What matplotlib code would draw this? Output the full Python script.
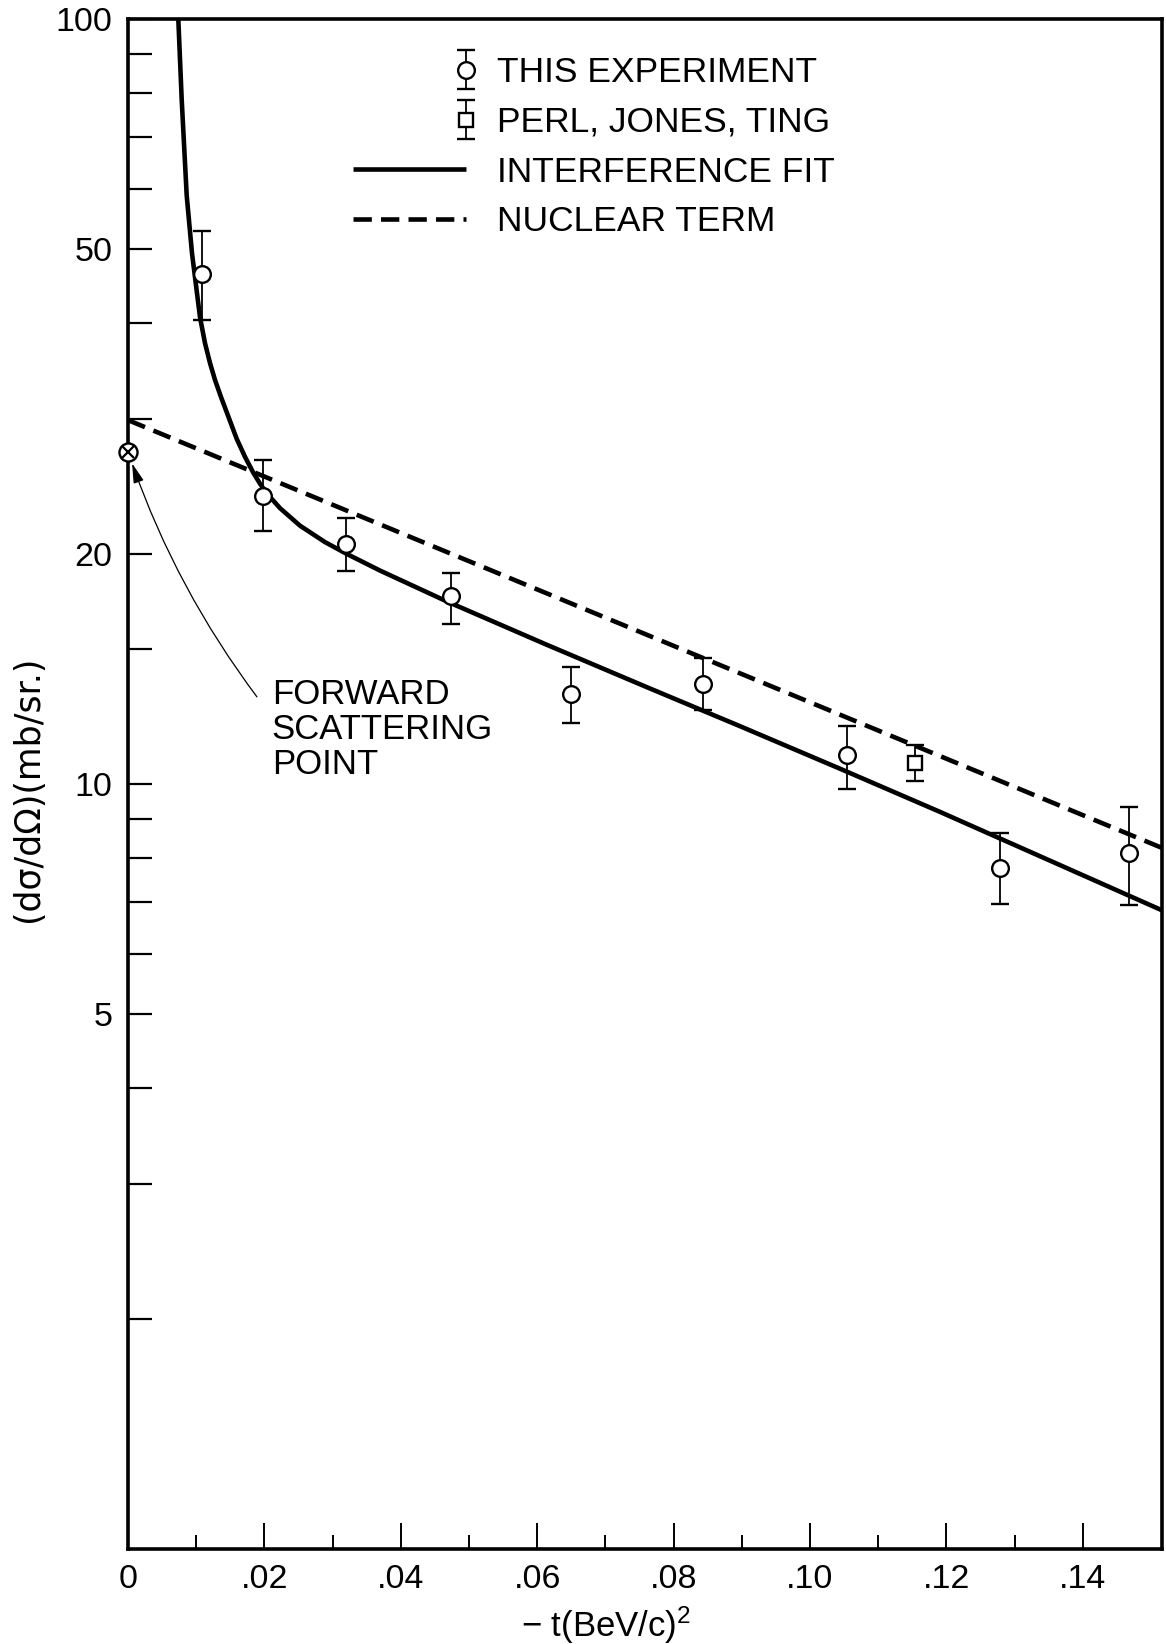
import numpy as np
import matplotlib
matplotlib.use('Agg')
import matplotlib.pyplot as plt
from matplotlib.legend_handler import HandlerErrorbar
from matplotlib.container import ErrorbarContainer
from matplotlib.ticker import FixedLocator, NullFormatter

plt.rcParams['font.family'] = ['Liberation Sans', 'DejaVu Sans']
plt.rcParams['mathtext.fontset'] = 'custom'
plt.rcParams['mathtext.rm'] = 'Liberation Sans'
plt.rcParams['mathtext.it'] = 'Liberation Sans'
plt.rcParams['mathtext.default'] = 'regular'

# ---------------- data ----------------
exp_t = [0.0108, 0.0198, 0.0319, 0.0474, 0.0649, 0.0843, 0.1054, 0.1279, 0.1467]
exp_y = [46.4, 23.8, 20.6, 17.6, 13.1, 13.5, 10.9, 7.77, 8.13]
exp_hi = [52.8, 26.5, 22.3, 18.9, 14.2, 14.6, 11.9, 8.63, 9.32]
exp_lo = [40.4, 21.4, 19.0, 16.2, 12.0, 12.5, 9.86, 6.97, 6.94]

pjt_t = [0.1154]
pjt_y = [10.65]
pjt_hi = [11.25]
pjt_lo = [10.10]

fwd_t = [0.0]
fwd_y = [27.2]

fit_t = [0.007375, 0.007874, 0.008607, 0.009384, 0.010557, 0.011290, 0.012024,
         0.012757, 0.013637, 0.015939, 0.017155, 0.018373, 0.019355, 0.020338,
         0.022287, 0.025220, 0.028886, 0.032112, 0.036950, 0.046774, 0.061437,
         0.076100, 0.089736, 0.104399, 0.119062, 0.151571]
fit_y = [100.0, 78.42, 58.78, 49.40, 40.75, 37.69, 35.50,
         33.74, 32.05, 28.26, 26.77, 25.52, 24.69, 23.99,
         22.94, 21.76, 20.71, 19.98, 19.01, 17.32, 15.20,
         13.38, 11.90, 10.47, 9.194, 6.839]

nuc_t = [0.0, 0.1516]
nuc_y = [29.9, 8.25]

x_major = [0, 0.02, 0.04, 0.06, 0.08, 0.10, 0.12, 0.14]
x_major_labels = ['0', '.02', '.04', '.06', '.08', '.10', '.12', '.14']
x_minor = [0.01, 0.03, 0.05, 0.07, 0.09, 0.11, 0.13]
y_major = [5, 10, 20, 50, 100]
y_major_labels = ['5', '10', '20', '50', '100']
y_minor = [2, 3, 4, 6, 7, 8, 9, 15, 30, 40, 60, 70, 80, 90]

legend_labels = ['THIS EXPERIMENT', 'PERL, JONES, TING', 'INTERFERENCE FIT', 'NUCLEAR TERM']


class RightErrorbar(HandlerErrorbar):
    """Errorbar legend handle with the marker at the right end of the handle."""
    def get_xdata(self, legend, xdescent, ydescent, width, height, fontsize):
        xdata = np.array([-xdescent, -xdescent + width], dtype=float)
        xmark = np.array([-xdescent + width], dtype=float)
        return xdata, xmark


fig = plt.figure(figsize=(11.66, 16.44), dpi=100)
ax = fig.add_axes([128 / 1166, 95 / 1644, 1034 / 1166, 1530 / 1644])

ax.set_yscale('log')
ax.set_xlim(0, 0.1516)
ax.set_ylim(1, 100)

l_fit, = ax.plot(fit_t, fit_y, color='k', lw=3.3, solid_capstyle='butt',
                 solid_joinstyle='round', zorder=3)
l_nuc, = ax.plot(nuc_t, nuc_y, color='k', lw=3.3, ls=(0, (4.0, 2.0)), zorder=3)

e_exp = ax.errorbar(exp_t, exp_y,
                    yerr=[np.array(exp_y) - np.array(exp_lo), np.array(exp_hi) - np.array(exp_y)],
                    fmt='o', ms=12, mfc='white', mec='k', mew=1.7, ecolor='k',
                    elinewidth=1.3, capsize=6.5, capthick=2.8, zorder=5)
e_pjt = ax.errorbar(pjt_t, pjt_y,
                    yerr=[np.array(pjt_y) - np.array(pjt_lo), np.array(pjt_hi) - np.array(pjt_y)],
                    fmt='s', ms=10.5, mfc='white', mec='k', mew=1.7, ecolor='k',
                    elinewidth=1.3, capsize=6.5, capthick=2.8, zorder=5)

ax.plot(fwd_t, fwd_y, 'o', ms=13, mfc='white', mec='k', mew=1.7, clip_on=False, zorder=6)
ax.plot(fwd_t, fwd_y, 'x', ms=8, mew=1.6, color='k', clip_on=False, zorder=7)

ax.text(0.02107, 13.75, 'FORWARD\nSCATTERING\nPOINT', fontsize=25, va='top', ha='left',
        linespacing=1.08)
ax.annotate('', xy=(fwd_t[0], fwd_y[0]), xytext=(0.0189, 13.0),
            arrowprops=dict(arrowstyle='-|>,head_length=0.6,head_width=0.16',
                            connectionstyle='arc3,rad=-0.08', lw=0.9, color='k',
                            shrinkA=0, shrinkB=9, mutation_scale=20))

leg = ax.legend([e_exp, e_pjt, l_fit, l_nuc], legend_labels,
                handler_map={ErrorbarContainer: RightErrorbar(yerr_size=0.55)},
                loc='upper left', bbox_to_anchor=(0.2176, 0.9756), borderaxespad=0,
                borderpad=0, frameon=False, fontsize=25.5, handlelength=3.2,
                handletextpad=0.88, labelspacing=0.47)

ax.set_xticks(x_major)
ax.set_xticklabels(x_major_labels)
ax.xaxis.set_minor_locator(FixedLocator(x_minor))
ax.set_yticks(y_major)
ax.set_yticklabels(y_major_labels)
ax.yaxis.set_minor_locator(FixedLocator(y_minor))
ax.yaxis.set_minor_formatter(NullFormatter())

ax.tick_params(axis='x', which='major', direction='in', length=18.5, width=1.4,
               labelsize=24.5, pad=11, top=False)
ax.tick_params(axis='x', which='minor', direction='in', length=10, width=1.4, top=False)
ax.tick_params(axis='y', which='both', direction='in', length=17, width=1.6,
               labelsize=24.5, pad=11, right=False)

for s in ax.spines.values():
    s.set_linewidth(2.6)

ax.set_xlabel('\u2212 t(BeV/c)$^{2}$', fontsize=25)
ax.xaxis.set_label_coords(0.462, -0.036)
ax.set_ylabel('(d\u03c3/d\u03a9)(mb/sr.)', fontsize=25, family=['DejaVu Sans'])
ax.yaxis.set_label_coords(-0.080, 0.497)

fig.savefig('out.png', dpi=100)
